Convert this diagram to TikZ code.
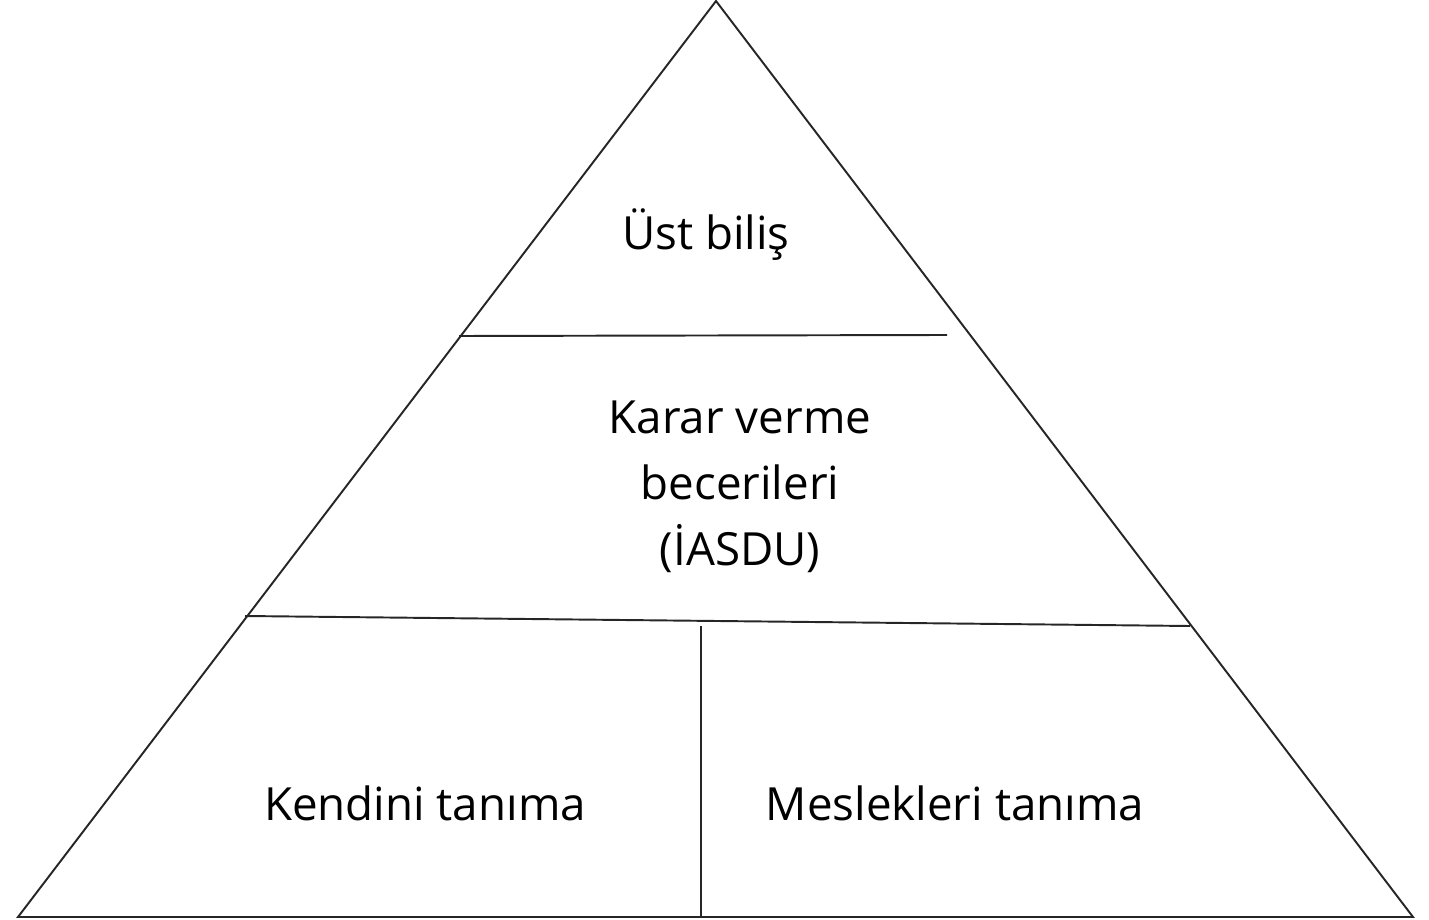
\documentclass[tikz,border=0pt]{standalone}
\usepackage{fontspec}
\setmainfont{Open Sans}
\usepackage{tikz}
\usetikzlibrary{positioning}

\begin{document}
\begin{tikzpicture}[
      myline/.style={
         draw=black!85,
         line width=1.1pt},
      mylabel/.style={
         inner sep=0pt,
         align=center,
         font=\fontsize{26}{37.5}\selectfont}
      ]
      \useasboundingbox (0,0) rectangle (28.58,18.38);

      % corners and level ends
      \coordinate (apex) at (14.32,18.36);
      \coordinate (bl) at (0.36,0.04);
      \coordinate (br) at (28.26,0.04);
      \coordinate (l1a) at (9.18,11.66);
      \coordinate (l1b) at (18.94,11.68);
      \coordinate (l2a) at (4.90,6.06);
      \coordinate (l2b) at (23.80,5.86);
      \coordinate (mid) at (14.02,5.86);
      \coordinate (midb) at (14.02,0.04);

      \draw[myline] (bl) -- (apex) -- (br) -- cycle;
      \draw[myline] (l1a) -- (l1b);
      \draw[myline] (l2a) -- (l2b);
      \draw[myline] (mid) -- (midb);

      \node[mylabel,anchor=base] (ust) at (14.12,13.38) {Üst biliş};
      \node[mylabel] (karar) at (14.80,8.64) {Karar verme\\becerileri\\(İASDU)};
      \node[mylabel,anchor=base] (kendini) at (8.50,1.98) {Kendini tanıma};
      \node[mylabel,anchor=base] (meslek) at (19.10,1.98) {Meslekleri tanıma};
\end{tikzpicture}
\end{document}
